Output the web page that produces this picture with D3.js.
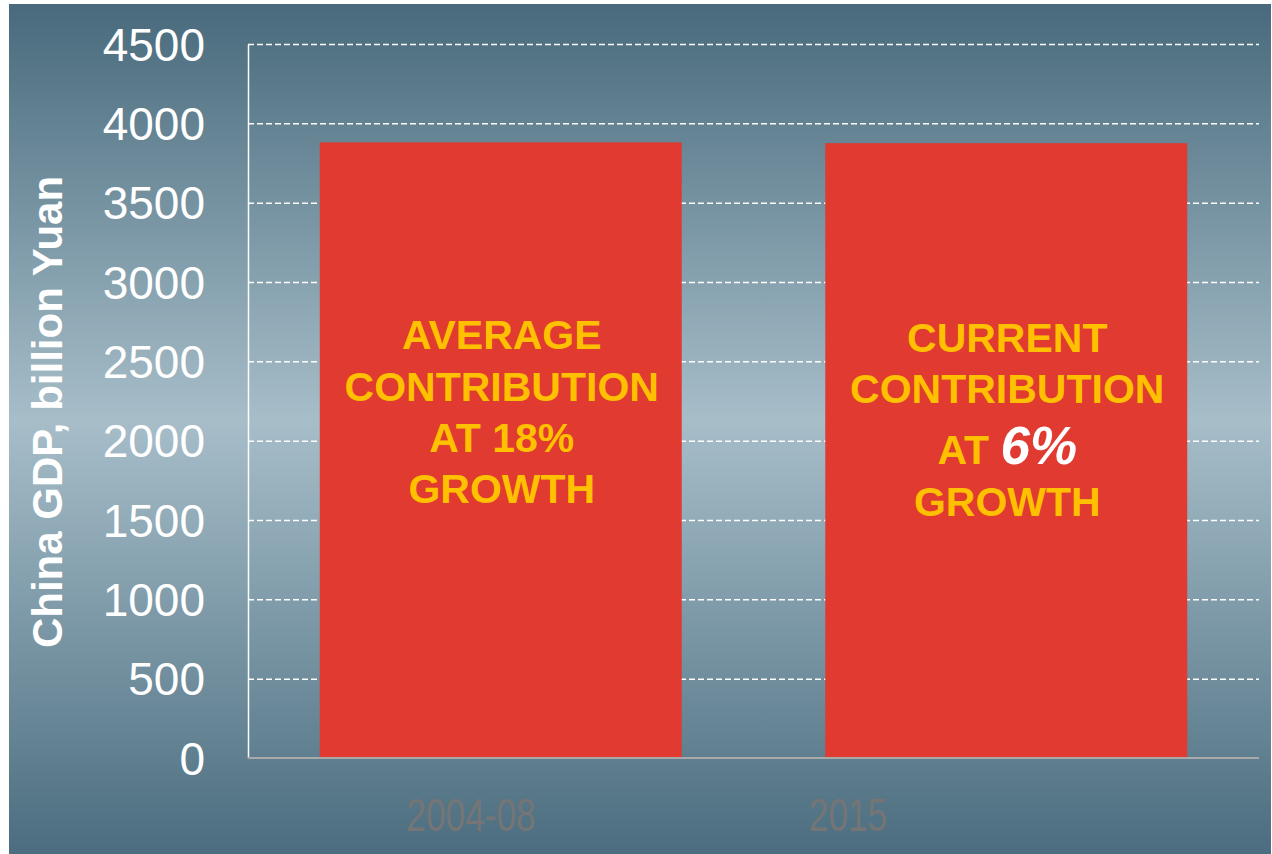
<!DOCTYPE html>
<html>
<head>
<meta charset="utf-8">
<script src="https://cdn.jsdelivr.net/npm/d3@7"></script>
<style>
  html, body { margin: 0; padding: 0; background: #ffffff; }
  svg { display: block; font-family: "Liberation Sans", Arial, sans-serif; }
</style>
</head>
<body>
<svg id="chart" width="1272" height="854"></svg>
<script>
// ---- data ----
const categories = ["2004-08", "2015"];
const gdpValues = [3880, 3875];
const yTicks = [0, 500, 1000, 1500, 2000, 2500, 3000, 3500, 4000, 4500];
const yTitle = "China GDP, billion Yuan";
const barLabelLines = [
  [["AVERAGE"], ["CONTRIBUTION"], ["AT 18%"], ["GROWTH"]],
  [["CURRENT"], ["CONTRIBUTION"], ["AT ", "6%"], ["GROWTH"]]
];

// ---- layout ----
const W = 1272, H = 854;
const plot = { left: 248, right: 1259, top: 44, bottom: 758 };
const svg = d3.select("#chart");

// background gradient
const defs = svg.append("defs");
const grad = defs.append("linearGradient").attr("id", "bg")
  .attr("x1", 0).attr("y1", 0).attr("x2", 0).attr("y2", 1);
grad.append("stop").attr("offset", "0%").attr("stop-color", "#486a7c");
grad.append("stop").attr("offset", "49%").attr("stop-color", "#a7bec9");
grad.append("stop").attr("offset", "100%").attr("stop-color", "#4b6d7f");

svg.append("rect").attr("x", 9).attr("y", 4).attr("width", W - 10).attr("height", H - 4)
  .attr("fill", "url(#bg)");

// scales
const x = d3.scaleBand().domain(categories).range([plot.left, plot.right])
  .paddingInner(0.284).paddingOuter(0.142);
const y = d3.scaleLinear().domain([0, 4500]).range([plot.bottom, plot.top]);

// y axis with gridlines
const yAxis = svg.append("g").attr("transform", `translate(${plot.left},0)`)
  .call(d3.axisLeft(y).tickValues(yTicks).tickFormat(d3.format("d"))
    .tickSizeInner(-(plot.right - plot.left)).tickSizeOuter(0).tickPadding(43));
yAxis.select(".domain").attr("stroke", "#ffffff").attr("stroke-width", 1.5);
yAxis.selectAll(".tick line")
  .attr("stroke", "#ffffff").attr("stroke-width", 1.5).attr("stroke-dasharray", "6,3")
  .attr("display", d => d === 0 ? "none" : null);
yAxis.selectAll(".tick text")
  .attr("fill", "#ffffff").attr("font-size", "46px").attr("dy", "0.35em")
  .style("font-family", "'Liberation Sans', Arial, sans-serif");

// bars
svg.append("g").selectAll("rect").data(categories).join("rect")
  .attr("x", d => x(d))
  .attr("width", x.bandwidth())
  .attr("y", (d, i) => y(gdpValues[i]))
  .attr("height", (d, i) => y(0) - y(gdpValues[i]))
  .attr("fill", "#e03a31");

// x axis line
svg.append("line")
  .attr("x1", plot.left).attr("x2", plot.right)
  .attr("y1", y(0)).attr("y2", y(0))
  .attr("stroke", "#a9a9a9").attr("stroke-width", 2);

// x labels (positioned left of bar centres as in the original)
const xl = d3.scalePoint().domain(categories).range([471, 848]);
svg.append("g").selectAll("text").data(categories).join("text")
  .attr("transform", d => `translate(${xl(d)},831) scale(0.75,1)`)
  .attr("text-anchor", "middle")
  .attr("font-size", "47px")
  .attr("fill", "#757575")
  .text(d => d);

// y title
svg.append("text")
  .attr("transform", `translate(62,412) rotate(-90)`)
  .attr("text-anchor", "middle")
  .attr("font-size", "42px")
  .attr("font-weight", "bold")
  .attr("fill", "#ffffff")
  .text(yTitle);

// bar annotations
const lineBaselines = [[349, 401, 452, 503], [352, 403, 464, 516]];
categories.forEach((c, i) => {
  const cx = x(c) + x.bandwidth() / 2 + 1;
  barLabelLines[i].forEach((parts, j) => {
    const t = svg.append("text")
      .attr("x", cx).attr("y", lineBaselines[i][j])
      .attr("text-anchor", "middle")
      .attr("font-weight", "bold")
      .attr("font-size", "41px")
      .attr("fill", "#ffc000");
    parts.forEach((p, k) => {
      const ts = t.append("tspan").text(p);
      if (p === "6%") {
        ts.attr("fill", "#ffffff").attr("font-style", "italic").attr("font-size", "53px");
      }
    });
  });
});
</script>
</body>
</html>
